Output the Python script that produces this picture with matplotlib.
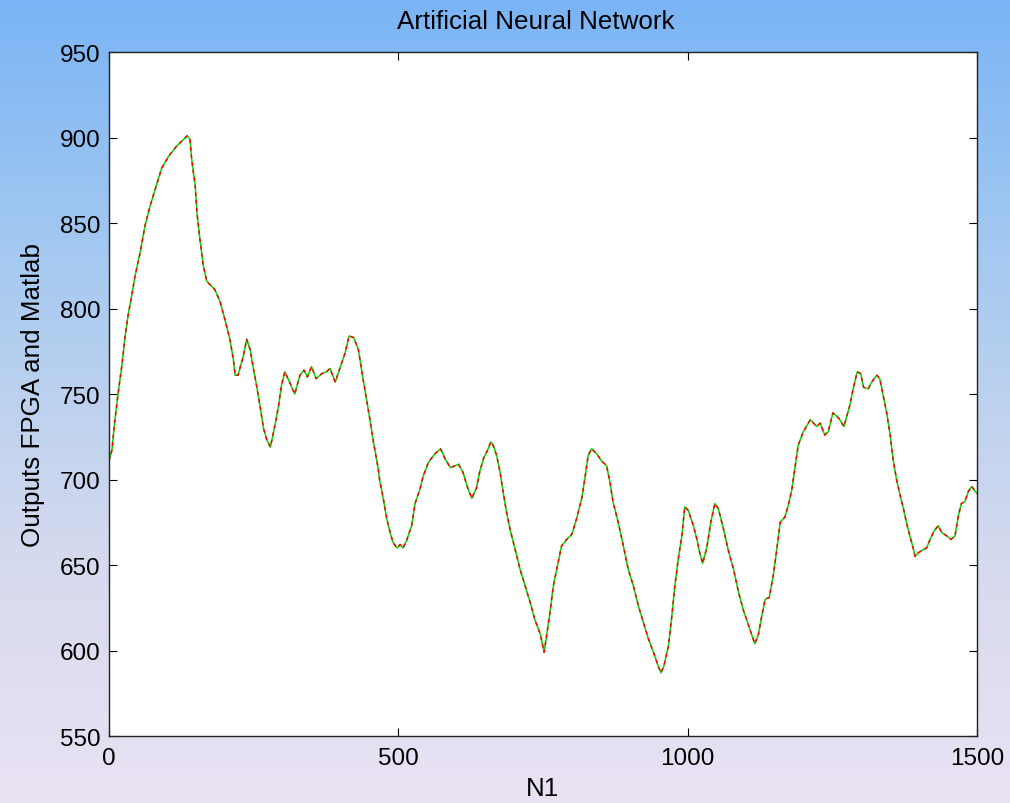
import numpy as np
import matplotlib
matplotlib.use("Agg")
import matplotlib.pyplot as plt
from matplotlib.colors import LinearSegmentedColormap

plt.rcParams['font.family'] = ['Liberation Sans', 'DejaVu Sans']

title = "Artificial Neural Network"
xlabel = "N1"
ylabel = "Outputs FPGA and Matlab"
xticks = [0, 500, 1000, 1500]
yticks = [550, 600, 650, 700, 750, 800, 850, 900, 950]

n1 = [0, 5, 10, 16, 22, 28, 33, 39, 45, 54, 62, 71, 80, 91, 103, 117, 135, 140, 143, 149,
      152, 157, 163, 169, 183, 192, 200, 209, 215, 218, 223, 232, 238, 244, 249, 255, 261, 267, 273, 279,
      287, 293, 298, 304, 312, 321, 330, 337, 343, 350, 358, 368, 376, 382, 391, 399, 408, 415, 423, 431,
      439, 445, 451, 457, 465, 468, 474, 480, 486, 491, 498, 503, 508, 514, 523, 529, 537, 543, 552, 563,
      573, 581, 590, 598, 604, 612, 619, 627, 635, 641, 648, 654, 660, 664, 670, 676, 681, 687, 693, 702,
      710, 719, 728, 736, 745, 752, 756, 762, 768, 774, 782, 791, 800, 808, 817, 823, 828, 834, 843, 851,
      860, 866, 871, 880, 889, 897, 906, 915, 923, 932, 941, 949, 954, 959, 967, 972, 978, 984, 990, 995,
      1001, 1010, 1016, 1021, 1026, 1033, 1040, 1047, 1053, 1062, 1070, 1079, 1088, 1096, 1105, 1111, 1116, 1122, 1128, 1134,
      1141, 1148, 1154, 1160, 1168, 1174, 1180, 1186, 1191, 1200, 1212, 1223, 1229, 1237, 1243, 1251, 1258, 1263, 1270, 1275,
      1280, 1286, 1293, 1299, 1304, 1312, 1318, 1327, 1332, 1338, 1344, 1350, 1355, 1361, 1367, 1373, 1378, 1384, 1389, 1393,
      1398, 1407, 1413, 1419, 1426, 1433, 1439, 1448, 1455, 1462, 1468, 1473, 1479, 1485, 1491, 1497, 1500]

matlab_out = [711, 717, 734, 751, 766, 784, 796, 807, 819, 833, 848, 860, 870, 882, 889, 895, 901, 899, 887, 872,
              856, 841, 825, 816, 811, 804, 794, 782, 770, 761, 761, 772, 782, 776, 766, 755, 743, 730, 723, 719,
              732, 743, 755, 763, 757, 750, 761, 764, 760, 766, 759, 762, 763, 765, 757, 765, 774, 784, 783, 776,
              759, 747, 735, 722, 707, 699, 689, 677, 669, 663, 660, 662, 660, 664, 673, 686, 694, 702, 710, 715,
              718, 712, 707, 708, 709, 704, 696, 689, 695, 705, 713, 717, 722, 720, 714, 704, 693, 681, 671, 659,
              648, 638, 628, 618, 610, 599, 608, 622, 638, 648, 661, 665, 668, 677, 689, 702, 714, 718, 715, 711,
              708, 698, 687, 675, 661, 648, 638, 626, 617, 607, 599, 591, 587, 591, 603, 618, 638, 654, 667, 684,
              682, 673, 665, 657, 651, 660, 675, 686, 683, 671, 659, 648, 634, 624, 615, 609, 604, 609, 620, 630,
              631, 644, 659, 675, 678, 685, 694, 708, 720, 728, 735, 731, 733, 726, 728, 739, 737, 735, 731, 737,
              743, 753, 763, 762, 754, 753, 757, 761, 759, 749, 739, 726, 712, 700, 691, 683, 675, 667, 661, 655,
              657, 659, 660, 665, 670, 673, 669, 667, 665, 667, 679, 686, 687, 693, 696, 693, 692]

fpga_out = list(matlab_out)

fig = plt.figure(figsize=(10.10, 8.04), dpi=100)

# gradient background
bg = fig.add_axes([0, 0, 1, 1], zorder=-10)
cmap = LinearSegmentedColormap.from_list(
    "bg", [(0.0, "#7ab4f5"), (0.35, "#a9cbf0"), (0.7, "#d6daee"), (1.0, "#e9e2f3")])
grad = np.linspace(0, 1, 256).reshape(-1, 1)
bg.imshow(grad, aspect="auto", cmap=cmap, extent=[0, 1, 0, 1], origin="upper")
bg.axis("off")

ax = fig.add_axes([0.1079, 0.0833, 0.8594, 0.8507])
ax.set_facecolor("white")
ax.plot(n1, matlab_out, color="#00dd00", lw=1.1)
ax.plot(n1, fpga_out, color="#ff0000", lw=1.1, dashes=(2.5, 2.5))

ax.set_xlim(0, 1500)
ax.set_ylim(550, 950)
ax.set_xticks(xticks)
ax.set_yticks(yticks)
ax.tick_params(direction="in", length=6, width=0.8, top=True, right=True,
               labelsize=17.5, colors="black")
ax.tick_params(axis="y", pad=6)
ax.tick_params(axis="x", pad=8)
for s in ax.spines.values():
    s.set_linewidth(1.0)
    s.set_color("#222222")

ax.set_title(title, fontsize=18.7, pad=17, x=0.492)
ax.set_xlabel(xlabel, fontsize=18.7, labelpad=5)
ax.set_ylabel(ylabel, fontsize=18.7, labelpad=11)

fig.savefig("out.png", dpi=100)
